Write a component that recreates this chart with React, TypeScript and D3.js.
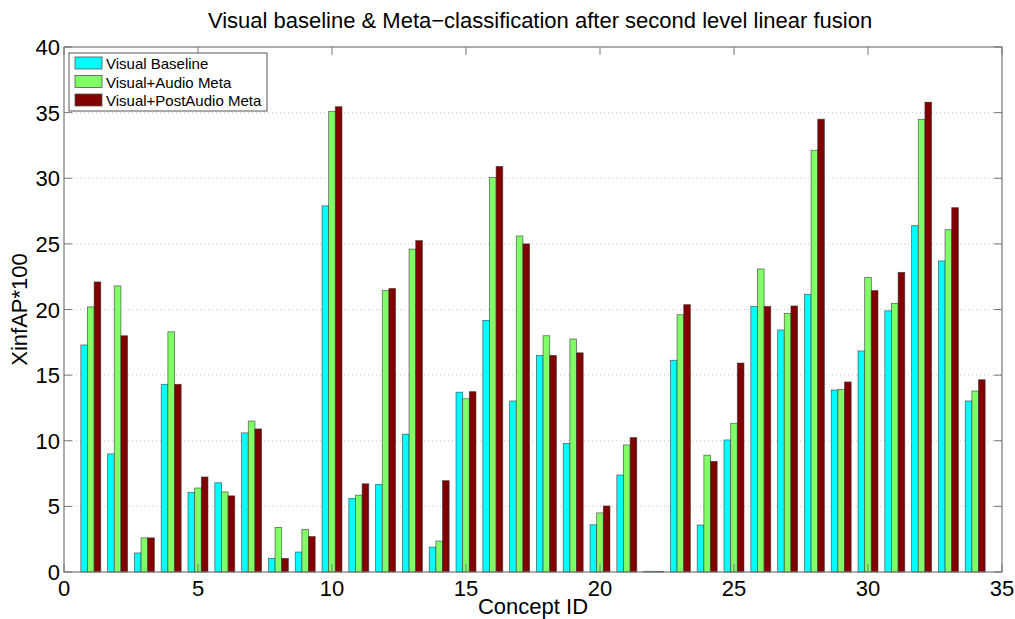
import React from "react";
import * as d3 from "d3";

const concepts = d3.range(1, 35);
const visualBaseline = [17.3, 9.0, 1.45, 14.3, 6.07, 6.8, 10.6, 1.04, 1.52, 27.9, 5.6, 6.68, 10.5, 1.9, 13.7, 19.17, 13.03, 16.5, 9.8, 3.6, 7.39, 0.05, 16.13, 3.58, 10.06, 20.24, 18.44, 21.16, 13.87, 16.84, 19.9, 26.39, 23.7, 13.03];
const visualAudioMeta = [20.2, 21.8, 2.6, 18.3, 6.4, 6.1, 11.5, 3.4, 3.25, 35.1, 5.85, 21.46, 24.6, 2.36, 13.2, 30.05, 25.6, 18.0, 17.75, 4.5, 9.68, 0.05, 19.6, 8.9, 11.33, 23.09, 19.7, 32.13, 13.92, 22.45, 20.47, 34.49, 26.08, 13.79];
const visualPostAudioMeta = [22.1, 18.0, 2.6, 14.3, 7.24, 5.8, 10.9, 1.04, 2.7, 35.45, 6.72, 21.6, 25.25, 6.96, 13.74, 30.9, 25.0, 16.5, 16.7, 5.03, 10.24, 0.05, 20.37, 8.43, 15.92, 20.24, 20.27, 34.5, 14.48, 21.44, 22.83, 35.8, 27.76, 14.65];

const seriesNames = ["Visual Baseline", "Visual+Audio Meta", "Visual+PostAudio Meta"];
const seriesColors = ["#00ffff", "#80ff66", "#800000"];
const xTicks = [0, 5, 10, 15, 20, 25, 30, 35];
const yTicks = [0, 5, 10, 15, 20, 25, 30, 35, 40];

const W = 1015, H = 619;
const L = 64, R = 1002, T = 47, B = 572;
const FONT = "'Liberation Sans', Arial, Helvetica, sans-serif";

export default function App() {
  const x = d3.scaleLinear().domain([0, 35]).range([L, R]);
  const y = d3.scaleLinear().domain([0, 40]).range([B, T]);
  const series = [visualBaseline, visualAudioMeta, visualPostAudioMeta];
  const bw = 0.248;
  const tick = 8;
  return (
    <svg width={W} height={H} style={{ position: "absolute", left: 0, top: 0 }} fontFamily={FONT}>
      <rect x={0} y={0} width={W} height={H} fill="#fff" />
      {yTicks.slice(1, -1).map((t) => (
        <line key={"g" + t} x1={L} x2={R} y1={y(t)} y2={y(t)} stroke="#c8c8c8" strokeWidth={1} strokeDasharray="1,3" />
      ))}
      {series.map((vals, si) =>
        vals.map((v, i) => {
          const c = concepts[i];
          const x0 = x(c + (si - 1.5) * bw);
          const x1 = x(c + (si - 0.5) * bw);
          return (
            <rect key={si + "-" + i} x={x0} y={y(v)} width={x1 - x0} height={y(0) - y(v)}
              fill={seriesColors[si]} stroke="#333" strokeOpacity={0.7} strokeWidth={0.8} />
          );
        })
      )}
      <rect x={L} y={T} width={R - L} height={B - T} fill="none" stroke="#777" strokeWidth={1.2} />
      {xTicks.map((t) => (
        <g key={"x" + t}>
          <line x1={x(t)} x2={x(t)} y1={B} y2={B - tick} stroke="#777" />
          <line x1={x(t)} x2={x(t)} y1={T} y2={T + tick} stroke="#777" />
          <text x={x(t)} y={596} fontSize={22} textAnchor="middle" fill="#000">{t}</text>
        </g>
      ))}
      {yTicks.map((t) => (
        <g key={"y" + t}>
          <line x1={L} x2={L + tick} y1={y(t)} y2={y(t)} stroke="#777" />
          <line x1={R} x2={R - tick} y1={y(t)} y2={y(t)} stroke="#777" />
          <text x={L - 4} y={y(t) + 8} fontSize={22} textAnchor="end" fill="#000">{t}</text>
        </g>
      ))}
      <text x={540} y={28} fontSize={22} textAnchor="middle" fill="#000">
        Visual baseline &amp; Meta−classification after second level linear fusion
      </text>
      <text x={(L + R) / 2} y={614} fontSize={22} textAnchor="middle" fill="#000">Concept ID</text>
      <text transform={`translate(27, ${(T + B) / 2}) rotate(-90)`} fontSize={22} textAnchor="middle" fill="#000">XinfAP*100</text>
      <g>
        <rect x={69} y={53} width={198} height={58} fill="#fff" stroke="#555" strokeWidth={1} />
        {seriesNames.map((n, i) => (
          <g key={n}>
            <rect x={75} y={57 + i * 18.5} width={27} height={12} fill={seriesColors[i]} stroke="#555" strokeWidth={0.8} />
            <text x={106} y={69 + i * 18.5} fontSize={15} fill="#000">{n}</text>
          </g>
        ))}
      </g>
    </svg>
  );
}
